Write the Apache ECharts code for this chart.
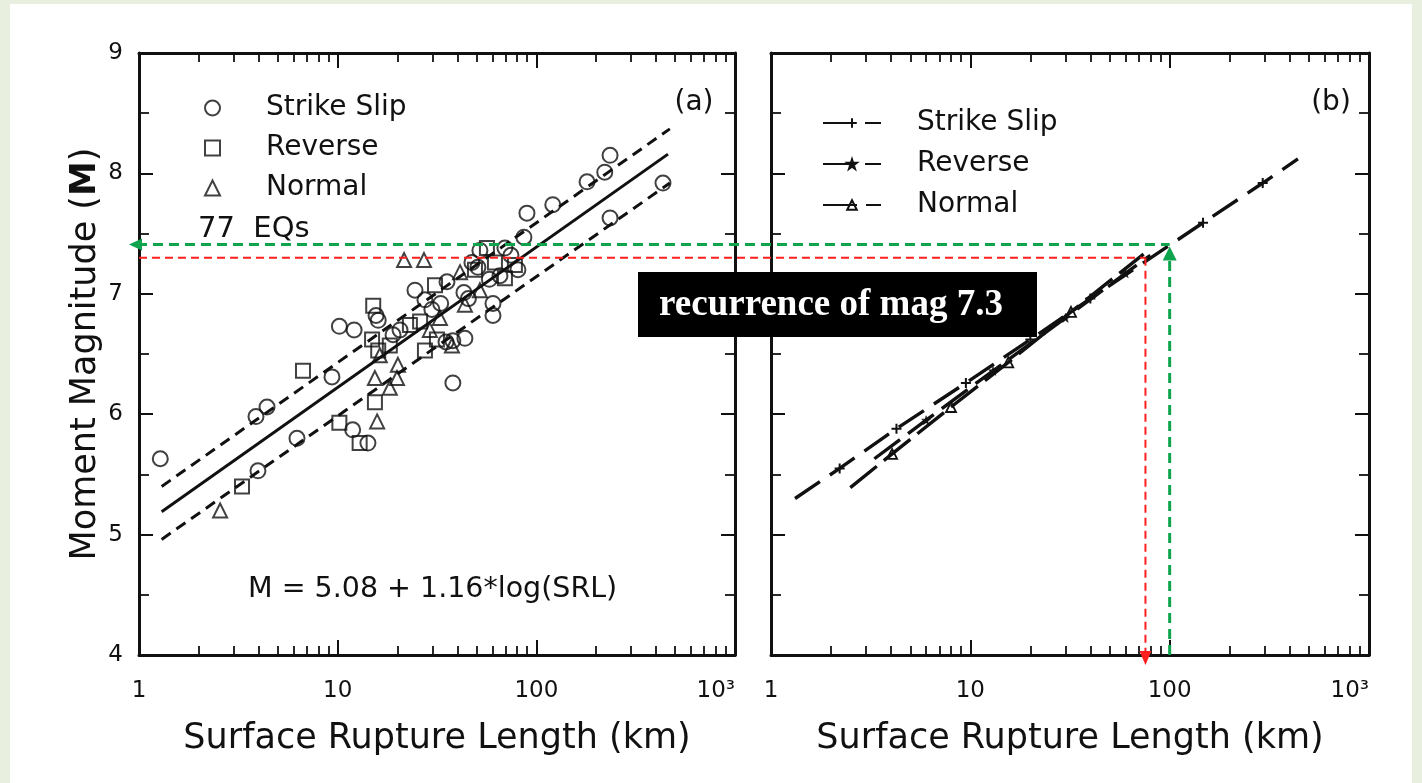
<!DOCTYPE html>
<html><head><meta charset="utf-8">
<script src="https://cdn.jsdelivr.net/npm/echarts@6/dist/echarts.min.js"></script>
<style>
html,body{margin:0;padding:0;width:1422px;height:783px;background:#e8efdf;overflow:hidden}
#paper{position:absolute;left:10px;top:4px;width:1402px;height:779px;background:#fff}
#chart{position:absolute;left:0;top:0;width:1422px;height:783px}
</style></head><body><div id="paper"></div><div id="chart"></div>
<script>
// ---------- data ----------
const srlMajorTicks = [1, 10, 100, 1000];
const srlMinorTicks = [2,3,4,5,6,7,8,9,20,30,40,50,60,70,80,90,200,300,400,500,600,700,800,900];
const srlTickLabels = ['1', '10', '100', '10³'];
const magRange = [4, 9];

// panel (a) observations: [SRL km, M]
const strikeSlipA = [
  [1.28,5.63],[3.88,5.98],[4.41,6.06],[3.97,5.53],[6.24,5.80],[9.36,6.31],[10.2,6.73],[12.1,6.70],[11.9,5.87],[14.2,5.76],
  [15.6,6.82],[38.0,6.26],[43.7,6.63],[38.0,6.61],[35.1,6.60],[29.8,6.87],[35.5,7.10],[47.4,7.26],[60.5,6.92],[60.5,6.82],
  [80.8,7.20],[86.6,7.47],[89.7,7.67],[121,7.74],[180,7.93],[221,8.01],[235,8.15],[235,7.63],[434,7.92],[43.2,7.01],
  [50.8,7.22],[74.5,7.32],[65.6,7.15],[24.5,7.03],[27.5,6.95],[52.0,7.36],[69.5,7.38],[19.0,6.66],[20.6,6.70],[16.0,6.78],
  [33.0,6.92],[58.0,7.12],[45.5,6.96]
];
const reverseA = [
  [3.30,5.40],[6.69,6.36],[10.2,5.93],[12.9,5.76],[15.4,6.10],[15.1,6.90],[14.9,6.62],[16.0,6.53],[26.0,6.77],[27.5,6.53],
  [31.6,6.62],[30.9,7.07],[56.4,7.38],[69.5,7.13],[61.9,7.26],[49.1,7.20],[18.3,6.57],[23.1,6.74],[78.0,7.24]
];
const normalA = [
  [2.56,5.20],[15.8,5.94],[15.4,6.30],[18.3,6.22],[19.9,6.30],[20.1,6.41],[21.6,7.28],[27.2,7.28],[41.3,7.18],[37.6,6.57],
  [16.3,6.49],[29.1,6.70],[32.7,6.80],[52.0,7.03],[43.7,6.91]
];
const regressionA = [[1.3,5.19],[460,8.16]];
const upperBandA = [[1.3,5.40],[470,8.37]];
const lowerBandA = [[1.3,4.96],[470,7.92]];

// panel (b) regression lines: ends and marker points [SRL km, M]
const strikeSlipEndsB = [[1.32,5.30],[440,8.12]];
const strikeSlipMarksB = [[2.21,5.55],[4.26,5.88],[9.5,6.26],[20,6.62],[40,6.96],[147,7.59],[293,7.92]];
const reverseEndsB = [[3.3,5.63],[80,7.32]];
const reverseMarksB = [[6,5.95],[13,6.36],[30,6.80],[60,7.17]];
const normalEndsB = [[2.5,5.39],[74,7.33]];
const normalMarksB = [[4.05,5.67],[8.0,6.06],[15.5,6.43],[32,6.85]];

// recurrence read-offs
const redMark = [75.6, 7.30];
const greenMark = [100, 7.41];

// ---------- build ----------
const FONT = '"DejaVu Sans", "Noto Sans", sans-serif';
const INK = '#111';
const PLUS = 'path://M5,0L5,10M0,5L10,5';
const STAR = 'path://M5,0L6.2,3.6L10,3.6L6.9,5.9L8.1,9.5L5,7.3L1.9,9.5L3.1,5.9L0,3.6L3.8,3.6Z';

function lineData(ends, marks) {
  const pts = [{value: ends[0], symbol: 'none'}];
  marks.forEach(m => pts.push(m));
  pts.push({value: ends[1], symbol: 'none'});
  return pts;
}
function labelFor(v) { return srlTickLabels[Math.round(Math.log10(v))] || ''; }

function xAxes(grid) {
  const common = {type: 'log', logBase: 10, min: 1, max: 1000, gridIndex: grid, splitLine: {show: false}};
  return [
    Object.assign({}, common, {
      position: 'bottom',
      axisLine: {show: true, onZero: false, lineStyle: {color: INK, width: 3}},
      axisTick: {show: true, inside: true, length: 15, customValues: srlMajorTicks, lineStyle: {color: INK, width: 2}},
      axisLabel: {show: true, customValues: srlMajorTicks, formatter: labelFor, color: INK, fontSize: 23,
        fontFamily: FONT, margin: 25, alignMaxLabel: 'right'},
      name: 'Surface Rupture Length (km)', nameLocation: 'middle', nameGap: 66,
      nameTextStyle: {fontSize: 35, fontFamily: FONT, color: INK}
    }),
    Object.assign({}, common, {
      position: 'bottom',
      axisLine: {show: false, onZero: false},
      axisTick: {show: true, inside: true, length: 9, customValues: srlMinorTicks, lineStyle: {color: INK, width: 1.8}},
      axisLabel: {show: false}
    }),
    Object.assign({}, common, {
      position: 'top',
      axisLine: {show: true, onZero: false, lineStyle: {color: INK, width: 3}},
      axisTick: {show: true, inside: true, length: 15, customValues: srlMajorTicks, lineStyle: {color: INK, width: 2}},
      axisLabel: {show: false}
    }),
    Object.assign({}, common, {
      position: 'top',
      axisLine: {show: false, onZero: false},
      axisTick: {show: true, inside: true, length: 9, customValues: srlMinorTicks, lineStyle: {color: INK, width: 1.8}},
      axisLabel: {show: false}
    })
  ];
}
function yAxis(grid, pos, labels) {
  const a = {
    type: 'value', min: magRange[0], max: magRange[1], interval: 1, gridIndex: grid, position: pos,
    splitLine: {show: false},
    axisLine: {show: true, onZero: false, lineStyle: {color: INK, width: 3}},
    axisTick: {show: true, inside: true, length: 14, lineStyle: {color: INK, width: 2}},
    minorTick: {show: true, splitNumber: 2, length: 10, lineStyle: {color: INK, width: 1.8}},
    axisLabel: {show: labels, color: INK, fontSize: 23, fontFamily: FONT, margin: 16}
  };
  if (labels) {
    a.name = 'Moment Magnitude ({m|M})';
    a.nameLocation = 'middle';
    a.nameGap = 36;
    a.nameTextStyle = {fontSize: 35, fontFamily: FONT, color: INK,
      rich: {m: {fontSize: 35, fontFamily: FONT, fontWeight: 'bold', color: INK}}};
  }
  return a;
}

const hollow = {color: 'rgba(0,0,0,0)', borderColor: INK, borderWidth: 2};

const option = {
  animation: false,
  backgroundColor: 'transparent',
  grid: [
    {left: 139, top: 53, width: 596, height: 602},
    {left: 771, top: 53, width: 598, height: 602}
  ],
  xAxis: xAxes(0).concat(xAxes(1)),
  yAxis: [yAxis(0, 'left', true), yAxis(0, 'right', false), yAxis(1, 'left', false), yAxis(1, 'right', false)],
  legend: [
    {
      data: ['Strike Slip', 'Reverse', 'Normal'], orient: 'vertical', left: 199, top: 88,
      itemWidth: 15, itemHeight: 15, itemGap: 10, selectedMode: false,
      itemStyle: {color: 'rgba(0,0,0,0)', borderColor: INK, borderWidth: 2},
      formatter: n => '{p|}' + n,
      textStyle: {fontSize: 28, fontFamily: FONT, color: INK, lineHeight: 30, rich: {p: {width: 41}}}
    },
    {
      data: ['Strike Slip ', 'Reverse ', {name: 'Normal ', itemStyle: {color: 'rgba(0,0,0,0)'}}],
      orient: 'vertical', left: 817, top: 103,
      itemWidth: 58, itemHeight: 12, itemGap: 11, selectedMode: false,
      formatter: n => '{p|}' + n,
      textStyle: {fontSize: 28, fontFamily: FONT, color: INK, lineHeight: 30, rich: {p: {width: 31}}}
    }
  ],
  series: [
    {name: 'Strike Slip', type: 'scatter', xAxisIndex: 0, yAxisIndex: 0, symbol: 'circle', symbolSize: 15,
      itemStyle: hollow, data: strikeSlipA, z: 3},
    {name: 'Reverse', type: 'scatter', xAxisIndex: 0, yAxisIndex: 0, symbol: 'rect', symbolSize: 14,
      itemStyle: hollow, data: reverseA, z: 3},
    {name: 'Normal', type: 'scatter', xAxisIndex: 0, yAxisIndex: 0, symbol: 'triangle', symbolSize: 14,
      itemStyle: hollow, data: normalA, z: 3},
    {type: 'line', xAxisIndex: 0, yAxisIndex: 0, data: regressionA, symbol: 'none', silent: true,
      lineStyle: {color: INK, width: 3}},
    {type: 'line', xAxisIndex: 0, yAxisIndex: 0, data: upperBandA, symbol: 'none', silent: true,
      lineStyle: {color: INK, width: 3, type: [11, 7]}},
    {type: 'line', xAxisIndex: 0, yAxisIndex: 0, data: lowerBandA, symbol: 'none', silent: true,
      lineStyle: {color: INK, width: 3, type: [11, 7]}},
    {name: 'Strike Slip ', type: 'line', xAxisIndex: 4, yAxisIndex: 2, symbol: PLUS, symbolSize: 10,
      data: lineData(strikeSlipEndsB, strikeSlipMarksB),
      itemStyle: {color: 'rgba(0,0,0,0)', borderColor: INK, borderWidth: 2},
      lineStyle: {color: INK, width: 3.4, type: [30, 12]}},
    {name: 'Reverse ', type: 'line', xAxisIndex: 4, yAxisIndex: 2, symbol: STAR, symbolSize: 9,
      data: lineData(reverseEndsB, reverseMarksB),
      itemStyle: {color: INK, borderColor: INK, borderWidth: 0.5},
      lineStyle: {color: INK, width: 3.4, type: [32, 10]}},
    {name: 'Normal ', type: 'line', xAxisIndex: 4, yAxisIndex: 2, symbol: 'triangle', symbolSize: 10,
      data: lineData(normalEndsB, normalMarksB),
      itemStyle: {color: 'rgba(0,0,0,0)', borderColor: INK, borderWidth: 1.8},
      lineStyle: {color: INK, width: 3.4, type: [34, 9]}}
  ]
};

const chart = echarts.init(document.getElementById('chart'), null, {renderer: 'canvas'});
chart.setOption(option);

// ---------- annotations placed through the axes ----------
const P = (si, v) => chart.convertToPixel({seriesIndex: si}, v);
const aG = P(0, [1, greenMark[1]]);
const bG = P(6, greenMark);
const bGbot = P(6, [greenMark[0], magRange[0]]);
const aR = P(0, [1, redMark[1]]);
const bR = P(6, redMark);
const bRbot = P(6, [redMark[0], magRange[0]]);
const GREEN = '#0ea44e', RED = '#ff1f1f';

const graphics = [
  {type: 'line', z: 50, shape: {x1: aG[0] - 2, y1: aG[1], x2: bG[0], y2: bG[1]},
    style: {stroke: GREEN, lineWidth: 3, lineDash: [10, 6]}},
  {type: 'polygon', z: 51, shape: {points: [[aG[0] - 10, aG[1]], [aG[0] + 3, aG[1] - 6], [aG[0] + 3, aG[1] + 6]]},
    style: {fill: GREEN}},
  {type: 'line', z: 50, shape: {x1: bG[0], y1: bGbot[1], x2: bG[0], y2: bG[1] + 14},
    style: {stroke: GREEN, lineWidth: 3, lineDash: [10, 6]}},
  {type: 'polygon', z: 51, shape: {points: [[bG[0], bG[1] + 2], [bG[0] - 7, bG[1] + 16], [bG[0] + 7, bG[1] + 16]]},
    style: {fill: GREEN}},
  {type: 'line', z: 50, shape: {x1: aR[0], y1: aR[1], x2: bR[0], y2: bR[1]},
    style: {stroke: RED, lineWidth: 2, lineDash: [8, 5]}},
  {type: 'line', z: 50, shape: {x1: bR[0], y1: bR[1], x2: bR[0], y2: bRbot[1] - 3},
    style: {stroke: RED, lineWidth: 2, lineDash: [8, 5]}},
  {type: 'polygon', z: 51, shape: {points: [[bR[0], bRbot[1] + 10], [bR[0] - 6, bRbot[1] - 4], [bR[0] + 6, bRbot[1] - 4]]},
    style: {fill: RED}},
  {type: 'rect', z: 60, shape: {x: 638, y: 272, width: 399, height: 65}, style: {fill: '#000'}},
  {type: 'text', z: 61, x: 831, y: 305, style: {text: 'recurrence of mag 7.3', fill: '#fff',
    font: 'bold 37px "Liberation Serif", "Times New Roman", serif', align: 'center', verticalAlign: 'middle'}},
  {type: 'text', z: 20, x: 694, y: 103, style: {text: '(a)', fill: INK, font: '28px ' + FONT, align: 'center', verticalAlign: 'middle'}},
  {type: 'text', z: 20, x: 1331, y: 103, style: {text: '(b)', fill: INK, font: '28px ' + FONT, align: 'center', verticalAlign: 'middle'}},
  {type: 'text', z: 20, x: 198, y: 229, style: {text: '77  EQs', fill: INK, font: '29px ' + FONT, align: 'left', verticalAlign: 'middle'}},
  {type: 'text', z: 20, x: 248, y: 590, style: {text: 'M = 5.08 + 1.16*log(SRL)', fill: INK, font: '28.5px ' + FONT, align: 'left', verticalAlign: 'middle'}}
];
chart.setOption({graphic: graphics});
</script></body></html>
